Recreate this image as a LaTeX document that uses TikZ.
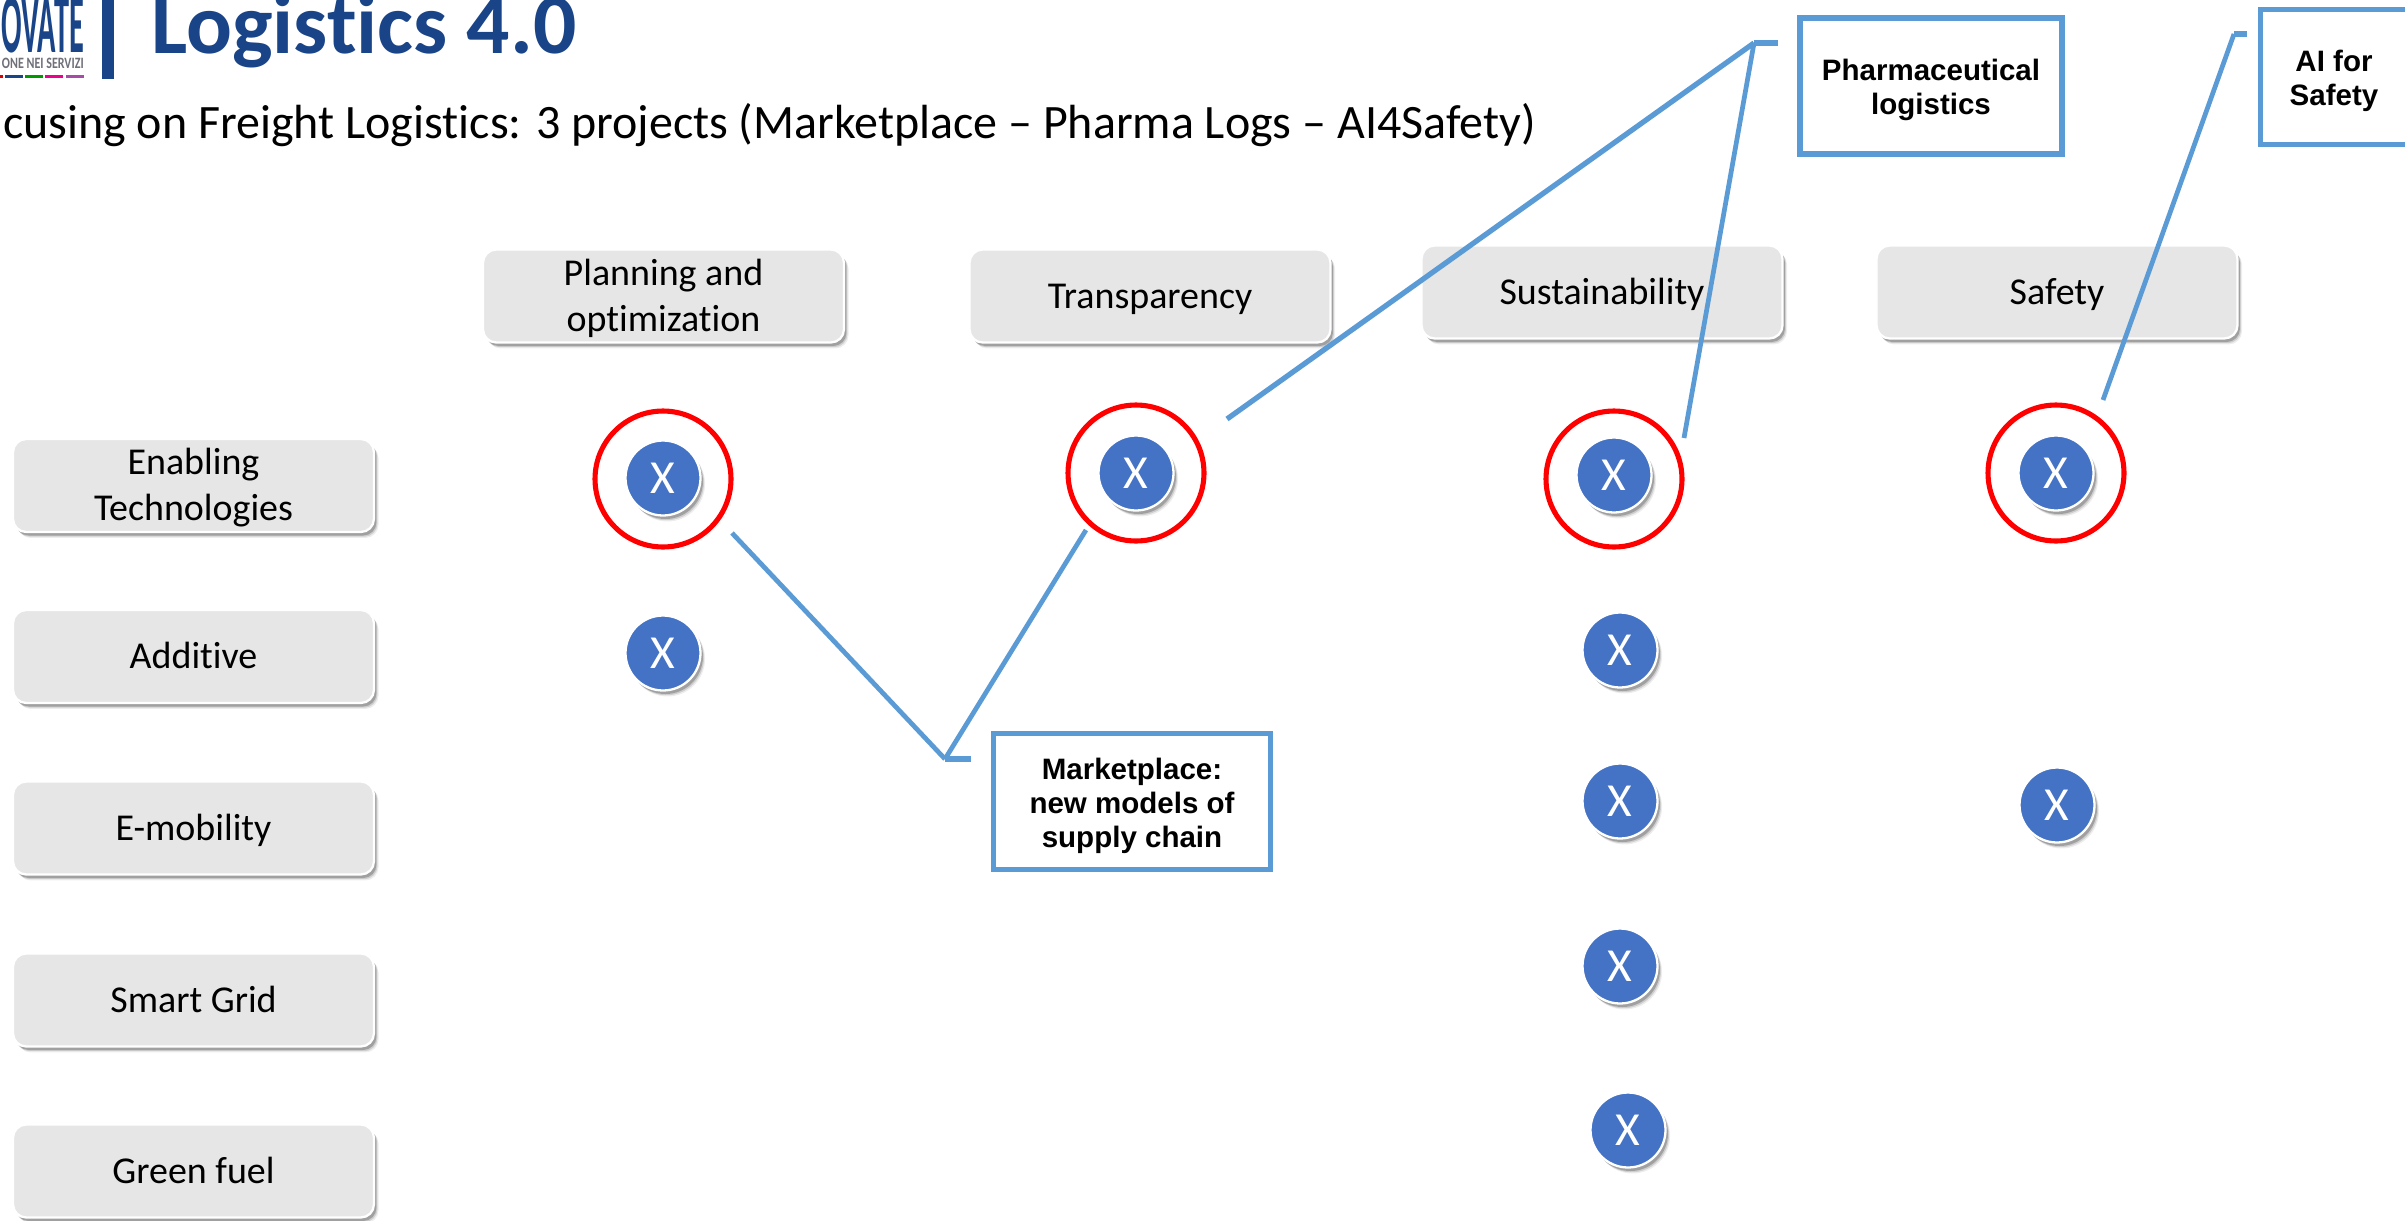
\documentclass[tikz,border=0pt]{standalone}
\usepackage{fontspec}
\setmainfont{Carlito}[Ligatures=NoCommon]
\newfontfamily\callfont{Liberation Sans}
\usetikzlibrary{shadows,calc}
\definecolor{titleblue}{HTML}{1A4488}
\definecolor{callblue}{HTML}{5B9BD5}
\definecolor{boxgray}{HTML}{E6E6E6}
\definecolor{dotblue}{HTML}{4472C4}
\definecolor{logogray}{HTML}{6F7078}
\newcommand\lnb[1]{\raisebox{-1.7pt}[.75em][.25em]{#1}}
\newcommand\lnc[1]{\raisebox{-2.6pt}[.75em][.25em]{#1}}
\tikzset{
  x=0.02cm,y=-0.02cm,
  softshadow/.style={
    general shadow={shadow xshift=2.6pt,shadow yshift=-3.4pt,fill=black,opacity=.07},
    general shadow={shadow xshift=2pt,shadow yshift=-2.7pt,fill=black,opacity=.13},
    general shadow={shadow xshift=1.4pt,shadow yshift=-2pt,fill=black,opacity=.22}},
  catbox/.style={draw=white,line width=1.3pt,fill=boxgray,rounded corners=7.5pt,softshadow,
    minimum width=7.22cm,minimum height=1.86cm,inner sep=0pt,align=center,
    font=\fontsize{21.6}{26.2}\selectfont,text=black},
  dot/.style={circle,draw=white,line width=1.3pt,fill=dotblue,softshadow,minimum size=1.5cm,
    inner sep=0pt,text=white,font=\fontsize{27}{30}\selectfont},
  ring/.style={circle,draw=red,line width=2.9pt,minimum size=2.72cm,inner sep=0pt},
  callbox/.style={draw=callblue,line width=3pt,fill=white,inner sep=0pt,align=center,
    font=\callfont\bfseries\fontsize{16.8}{19.3}\selectfont,text=black},
  leader/.style={draw=callblue,line width=3pt},
  thinleader/.style={draw=callblue,line width=2.7pt},
}
\begin{document}
\begin{tikzpicture}
\path[use as bounding box] (0,0) rectangle (2405,1221);
\clip (0,0) rectangle (2405,1221);
\fill[white] (0,0) rectangle (2405,1221);
% logo
\node[anchor=base east,inner sep=0pt,text=titleblue,xscale=.36] (logoword) at (84,52) {\fontsize{48}{50}\selectfont\bfseries OVATE};
\node[anchor=base east,inner sep=0pt,text=logogray,xscale=.76] (logosub) at (84,68.5) {\fontsize{9}{10}\selectfont\bfseries ONE NEI SERVIZI};
\fill[red!85!black] (-5,75) rectangle (3,77.5);
\fill[titleblue] (5,75) rectangle (23,77.5);
\fill[green!60!black] (25,75) rectangle (43,77.5);
\fill[magenta] (45,75) rectangle (63,77.5);
\fill[violet!70] (66,75) rectangle (84,77.5);
\fill[titleblue] (102,0) rectangle (114,79);
% headings
\node[anchor=base west,inner sep=0pt,text=titleblue] (title) at (151,53) {\fontsize{48.7}{54}\selectfont\bfseries Logistics 4.0};
\node[anchor=base east,inner sep=0pt,text=black] (subtitle) at (1536,138.5) {\fontsize{27.3}{32}\selectfont cusing on Freight Logistics: 3 projects (Marketplace – Pharma Logs – AI4Safety)};
% column headings
\node[catbox] (planning) at (663.5,296) {\lnb{Planning and}\\\lnb{optimization}};
\node[catbox] (transparency) at (1150,296) {\lnb{Transparency}};
\node[catbox] (sustainability) at (1602,292) {\lnb{Sustainability}};
\node[catbox] (safety) at (2057,292) {\lnb{Safety}};
% row headings
\node[catbox] (enabling) at (193.5,485.5) {\lnb{Enabling}\\\lnb{Technologies}};
\node[catbox] (additive) at (193.5,656.5) {\lnb{Additive}};
\node[catbox] (emobility) at (193.5,828) {\lnb{E-mobility}};
\node[catbox] (smartgrid) at (193.5,1000) {\lnb{Smart Grid}};
\node[catbox] (greenfuel) at (193.5,1171) {\lnb{Green fuel}};
% marks
\node[dot] (a1) at (663,478) {X};
\node[dot] (a2) at (663,653) {X};
\node[dot] (b1) at (1136,473) {X};
\node[dot] (c1) at (1614,475) {X};
\node[dot] (c2) at (1620,650) {X};
\node[dot] (c3) at (1620,801) {X};
\node[dot] (c4) at (1620,966) {X};
\node[dot] (c5) at (1628,1130) {X};
\node[dot] (d1) at (2056,473) {X};
\node[dot] (d3) at (2057,805) {X};
% rings
\node[ring] (ra) at (663,479) {};
\node[ring] (rb) at (1136,473) {};
\node[ring] (rc) at (1614,479) {};
\node[ring] (rd) at (2056,473) {};
% callouts
\node[callbox,minimum width=5.55cm,minimum height=2.72cm] (market) at (1132,801.5) {\lnc{Marketplace:}\\\lnc{new models of}\\\lnc{supply chain}};
\node[callbox,minimum width=5.24cm,minimum height=2.72cm] (pharma) at (1931,86) {\lnc{Pharmaceutical}\\\lnc{logistics}};
\node[callbox,minimum width=5.4cm,minimum height=2.7cm,anchor=north west] (aibox) at (2258,7) {};
\node[anchor=center,inner sep=0pt,align=center,font=\callfont\bfseries\fontsize{16.8}{19.3}\selectfont] (ailabel) at (2334,77) {\lnc{AI for}\\\lnc{Safety}};
% leaders
\coordinate (mk) at (945,759);
\coordinate (ph) at (1754,43);
\coordinate (ai) at (2234,34);
\draw[leader] (971,759) -- (mk);
\draw[thinleader] (mk) -- (732,533);
\draw[thinleader] (mk) -- (1086,530);
\draw[leader] (1778,43) -- (ph);
\draw[leader] (ph) -- (1227,419);
\draw[thinleader] (ph) -- (1684,438);
\draw[leader] (2247,34) -- (ai);
\draw[thinleader] (ai) -- (2103,400);
\end{tikzpicture}
\end{document}
